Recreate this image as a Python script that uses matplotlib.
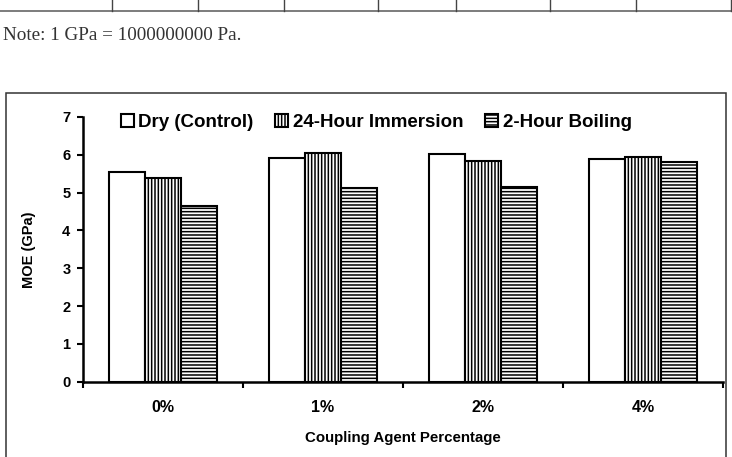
import matplotlib
matplotlib.use("Agg")
import matplotlib.pyplot as plt
from matplotlib.lines import Line2D
from matplotlib.patches import Rectangle
import numpy as np

categories = ["0%", "1%", "2%", "4%"]
series_names = ["Dry (Control)", "24-Hour Immersion", "2-Hour Boiling"]
dry = [5.54, 5.92, 6.01, 5.88]
immersion = [5.39, 6.06, 5.84, 5.94]
boiling = [4.64, 5.13, 5.16, 5.82]
y_ticks = [0, 1, 2, 3, 4, 5, 6, 7]

plt.rcParams['font.family'] = ['Liberation Sans', 'DejaVu Sans']
plt.rcParams['hatch.linewidth'] = 1.1

W, H = 732, 457
fig = plt.figure(figsize=(W / 100, H / 100), dpi=100)

def fx(px):
    return px / W

def fy(py):
    return 1 - py / H

# fragment of the table above
tcol = "#444444"
fig.add_artist(Line2D([0, 1], [fy(11), fy(11)], transform=fig.transFigure, color="#666666", lw=1.2))
for xv in [112, 198, 284, 378, 456, 550, 636, 730.5]:
    fig.add_artist(Line2D([fx(xv), fx(xv)], [fy(11), 1.0], transform=fig.transFigure, color=tcol, lw=1.0))
fig.text(fx(3), fy(39.5), "Note: 1 GPa = 1000000000 Pa.", family=["Liberation Serif", "DejaVu Serif"],
         fontsize=13.8, color="#333333", ha="left", va="baseline")

# chart frame
fig.add_artist(Rectangle((fx(6), -0.1), fx(726) - fx(6), fy(92.7) + 0.1, transform=fig.transFigure,
                         fill=False, edgecolor="#333333", lw=1.1))

ax = fig.add_axes([fx(83), fy(381.7), fx(723) - fx(83), fy(117) - fy(381.7)])

x = np.arange(len(categories))
bw = 0.225
ax.bar(x - bw, dry, bw, color="white", edgecolor="black", lw=1.5, label=series_names[0], zorder=3)
ax.bar(x, immersion, bw, color="white", edgecolor="black", lw=1.5, hatch="|||||", label=series_names[1], zorder=3)
ax.bar(x + bw, boiling, bw, color="white", edgecolor="black", lw=1.5, hatch="-----", label=series_names[2], zorder=3)

ax.set_xlim(-0.5, len(categories) - 0.5)
ax.set_ylim(0, 7)
ax.set_yticks(y_ticks)
ax.set_yticklabels([str(v) for v in y_ticks], fontsize=10.5, fontweight="bold")
ax.set_xticks(np.arange(len(categories) + 1) - 0.5)
ax.set_xticklabels([])
ax.set_xticks(x, minor=True)
ax.set_xticklabels(categories, minor=True, fontsize=11.5, fontweight="bold")
ax.tick_params(axis="x", which="major", direction="out", length=4, width=1.5)
ax.tick_params(axis="x", which="minor", length=0, pad=13.5)
ax.tick_params(axis="y", direction="out", length=4, width=1.5, pad=5)

for s in ["top", "right"]:
    ax.spines[s].set_visible(False)
for s in ["left", "bottom"]:
    ax.spines[s].set_linewidth(1.8)

ax.set_xlabel("Coupling Agent Percentage", fontsize=10.8, fontweight="bold", labelpad=11)
ax.set_ylabel("MOE (GPa)", fontsize=10.5, fontweight="bold", labelpad=19)

leg = ax.legend(loc="upper left", ncol=3, frameon=False, prop={"size": 13.5, "weight": "bold"},
                handlelength=0.7, handleheight=0.7, handletextpad=0.25, columnspacing=1.15,
                borderaxespad=0)
leg.set_bbox_to_anchor(((113 - 83) / (723 - 83), 1.04), transform=ax.transAxes)

fig.savefig("out.png", dpi=100)
